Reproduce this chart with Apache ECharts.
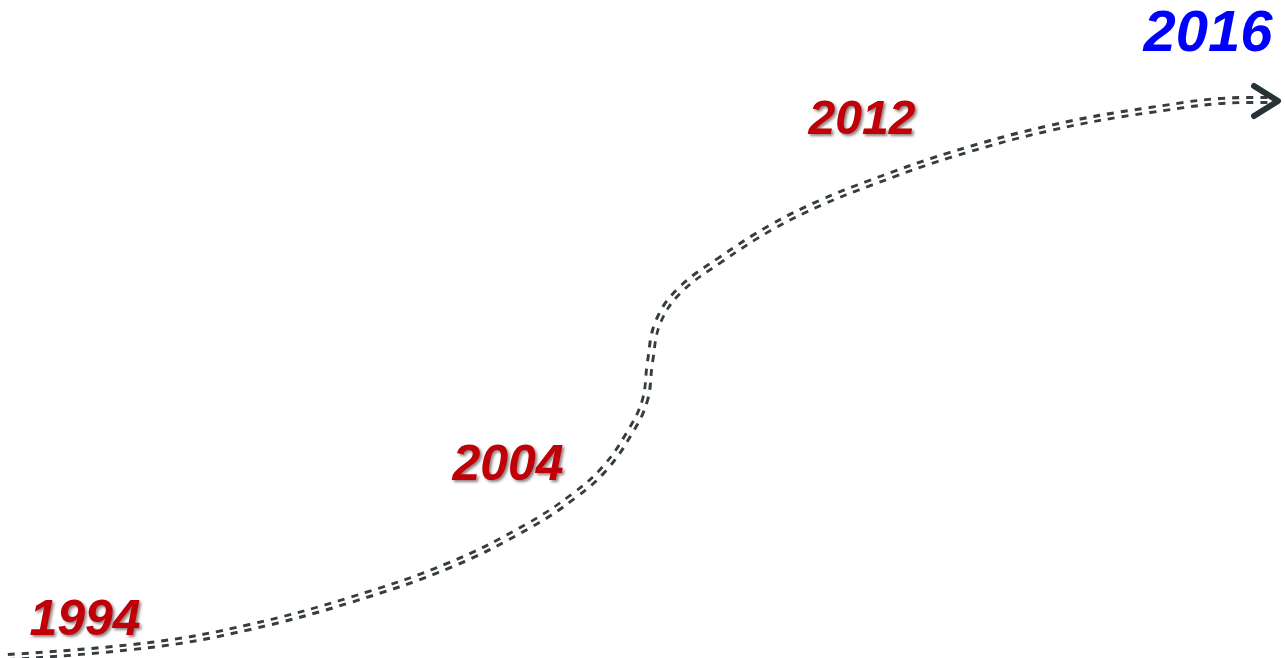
<!DOCTYPE html>
<html lang="en">
<head>
    <meta charset="UTF-8">
    <title>1994 - 2016</title>
    <style>
        html, body { margin: 0; padding: 0; background: #fff; }
        #container { width: 1285px; height: 658px; }
    </style>
</head>
<body>
<div id="container"></div>
<script src="https://cdn.jsdelivr.net/npm/echarts@6/dist/echarts.min.js"></script>
<script type="text/javascript">
    // path of the timeline (x to the right, y downward, same units as the page)
    var pathX = [8, 150, 250, 350, 450, 530, 575, 605, 630, 645, 650, 658, 680, 720, 770, 820, 870, 950, 1050, 1150, 1250, 1268];
    var pathY = [657, 645, 627, 600, 565, 525, 495, 468, 432, 400, 362, 322, 290, 260, 228, 203, 183, 155, 128, 110, 100, 100];

    // arrow head at the end
    var arrowX = [1254, 1278, 1254];
    var arrowY = [86, 101, 116];

    // year labels
    var years = ['1994', '2004', '2012', '2016'];
    var yearX = [85, 508, 862, 1208];
    var yearY = [621, 466, 121, 35];
    var yearColor = ['#c00008', '#c00008', '#c00008', '#0000ff'];
    var yearSize = [50, 50, 48, 58];

    function pairs(xs, ys) {
        return xs.map(function (x, i) { return [x, ys[i]]; });
    }

    var chart = echarts.init(document.getElementById('container'));

    var option = {
        animation: false,
        grid: { left: 0, right: 0, top: 0, bottom: 0 },
        xAxis: { type: 'value', min: 0, max: 1285, show: false },
        yAxis: { type: 'value', min: 0, max: 658, inverse: true, show: false },
        series: [
            {
                // wide dashed stroke
                type: 'line',
                data: pairs(pathX, pathY),
                smooth: 0.4,
                symbol: 'none',
                lineStyle: { color: '#363d41', width: 8, type: [7, 7] },
                z: 2
            },
            {
                // thin white core splits the dashes in two
                type: 'line',
                data: pairs(pathX, pathY),
                smooth: 0.4,
                symbol: 'none',
                lineStyle: { color: '#ffffff', width: 2.2 },
                z: 3
            },
            {
                type: 'line',
                data: pairs(arrowX, arrowY),
                symbol: 'none',
                lineStyle: { color: '#263236', width: 6, cap: 'round', join: 'round' },
                z: 4
            },
            {
                type: 'scatter',
                symbolSize: 0,
                data: years.map(function (y, i) {
                    return {
                        value: [yearX[i], yearY[i]],
                        label: {
                            show: true,
                            position: 'inside',
                            formatter: y,
                            color: yearColor[i],
                            opacity: 1,
                            textBorderWidth: 0,
                            fontSize: yearSize[i],
                            fontStyle: 'italic',
                            fontWeight: 'bold',
                            fontFamily: 'Liberation Sans',
                            textShadowColor: i < 3 ? 'rgba(40,0,0,0.5)' : 'rgba(0,0,0,0)',
                            textShadowBlur: 3,
                            textShadowOffsetX: 2,
                            textShadowOffsetY: 2
                        }
                    };
                }),
                z: 5
            }
        ]
    };

    chart.setOption(option);
</script>
</body>
</html>
